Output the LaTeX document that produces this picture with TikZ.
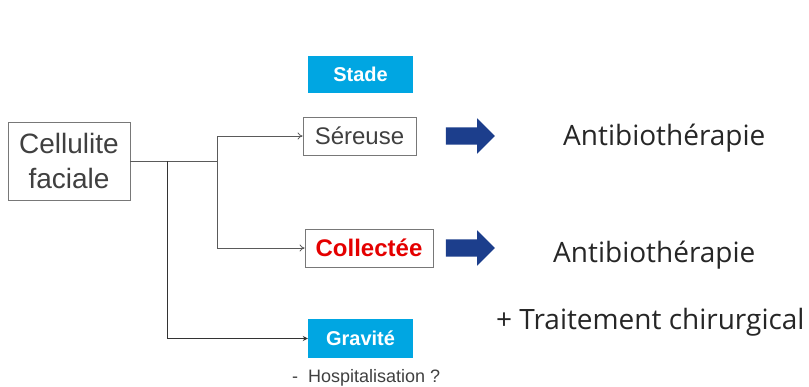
\documentclass[tikz,border=0pt]{standalone}
\usepackage{fontspec}
\setmainfont{Liberation Sans}
\newfontfamily\opensans{Open Sans}
\usetikzlibrary{shapes.arrows, arrows.meta, positioning}
\definecolor{textgray}{RGB}{64, 64, 64}
\definecolor{linegray}{RGB}{90, 90, 90}
\definecolor{boxgray}{RGB}{120, 120, 120}
\definecolor{stadecyan}{RGB}{0, 166, 226}
\definecolor{arrowblue}{RGB}{28, 62, 140}
\definecolor{collred}{RGB}{228, 0, 0}

\begin{document}
\begin{tikzpicture}[
    x=1pt, y=-1pt,
    box/.style={rectangle, draw=boxgray, line width=0.8pt, inner sep=0pt, align=center, text=textgray},
    tagbox/.style={rectangle, fill=stadecyan, text=white, inner sep=0pt, minimum width=105pt, minimum height=37pt, font=\fontsize{20}{24}\selectfont\bfseries},
    bigarrow/.style={single arrow, fill=arrowblue, inner xsep=0pt, inner ysep=8.5pt, minimum height=49pt, single arrow head extend=9pt, single arrow head indent=0pt},
    result/.style={font=\opensans\fontsize{28}{32}\selectfont, text=black!85, anchor=west, inner sep=0pt},
    link/.style={linegray, line width=0.8pt, -{To[length=5pt, width=7pt]}},
    linkdark/.style={black!80, line width=0.8pt, -{Stealth[length=5pt, width=5pt]}},
]
\useasboundingbox (0,0) rectangle (809,386);

% Start box
\node[box, minimum width=122pt, minimum height=78pt, font=\fontsize{28}{35}\selectfont] (cellulite) at (69,161) {Cellulite\\faciale};

% Stage boxes
\node[tagbox] (stade) at (360.5,74.5) {Stade};
\node[box, minimum width=113pt, minimum height=38pt, font=\fontsize{24}{28}\selectfont] (sereuse) at (359.5,136) {S\'ereuse};
\node[box, minimum width=128pt, minimum height=38pt, font=\fontsize{24}{28}\selectfont\bfseries, text=collred] (collectee) at (369,248) {Collect\'ee};
\node[tagbox, minimum height=39pt] (gravite) at (360.5,338.5) {Gravit\'e};
\node[anchor=west, inner sep=0pt, text=textgray, font=\fontsize{18}{20}\selectfont] (hosp) at (292,378) {-\hspace{10pt}Hospitalisation ?};

% Big arrows
\node[bigarrow] (fleche1) at (466,136) {};
\node[bigarrow] (fleche2) at (466,248) {};

% Treatments
\node[result] (atb1) at (563,138) {Antibioth\'erapie};
\node[result] (atb2) at (553,255) {Antibioth\'erapie};
\node[result] (chir) at (496,322) {+ Traitement chirurgical};

% Connectors
\coordinate (split) at (167,161);
\coordinate (fork) at (217,161);
\draw[linegray, line width=0.8pt] (cellulite.east) -- (fork);
\draw[link] (fork) |- (sereuse.west);
\draw[link] (fork) |- (collectee.west);
\draw[linkdark] (split) |- (gravite.west);

\end{tikzpicture}
\end{document}
